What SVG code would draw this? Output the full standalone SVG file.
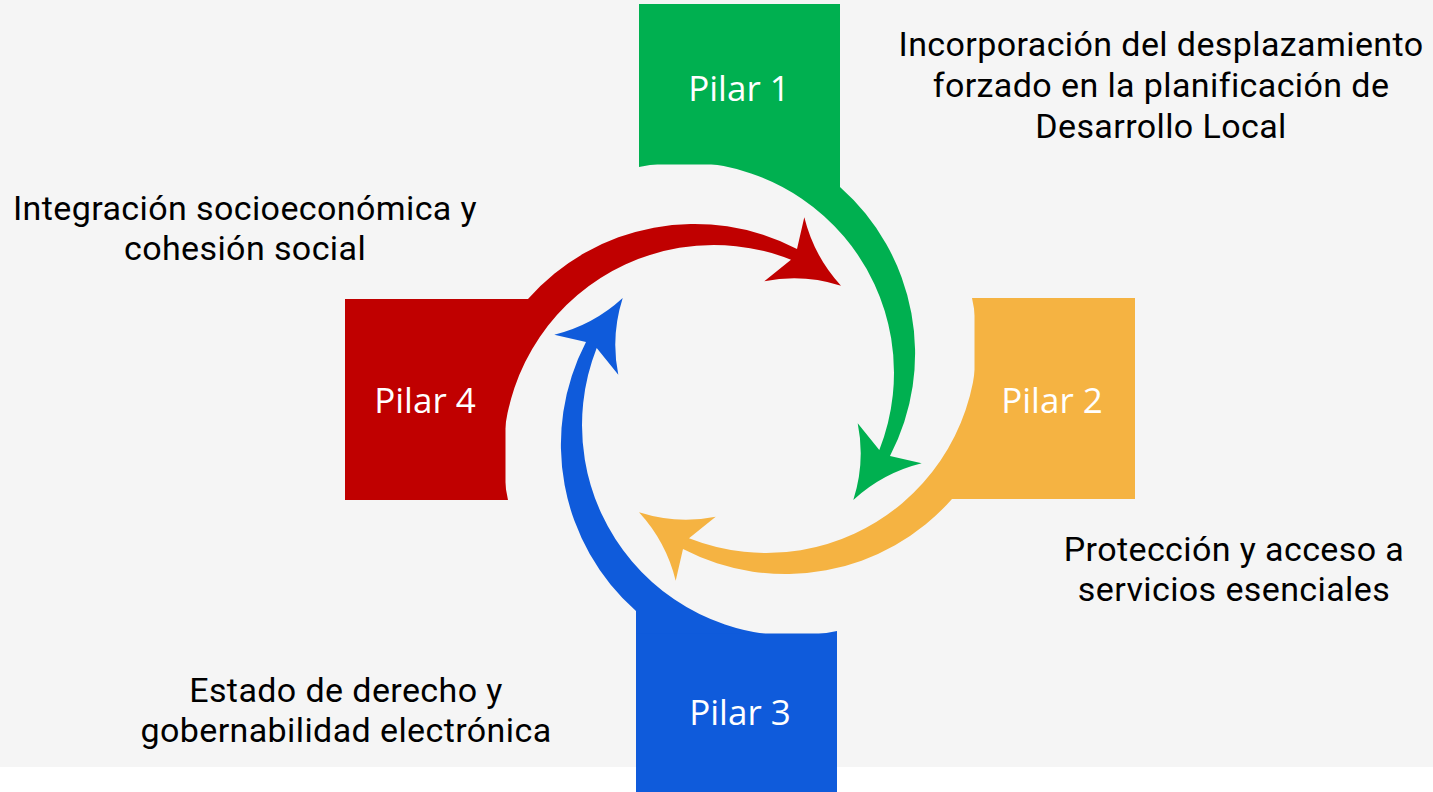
<svg xmlns="http://www.w3.org/2000/svg" width="1433" height="792" viewBox="0 0 1433 792">
<defs>
<style>
.lbl{font-family:Roboto,"Liberation Sans",sans-serif;font-size:34px;letter-spacing:0.4px;fill:#000;text-anchor:middle}
.pl{font-family:"Open Sans","Noto Sans",sans-serif;font-size:35px;fill:#fff;text-anchor:middle}
</style>
<rect id="box" x="639" y="4" width="201" height="160.5"/>
<path id="band" d="M840,187 A222,222 0 0 1 890,456 L921.7,463.3 Q882.8,472.9 853.3,500 Q865.5,461.5 857.7,423.3 L879.3,450 A210.5,210.5 0 0 0 639,167 L639,164 L840,164 Z"/>
</defs>
<rect width="1433" height="792" fill="#ffffff"/>
<rect width="1433" height="767" fill="#f5f5f5"/>
<g id="connectors">
<use href="#band" fill="#00B050"/>
<use href="#band" fill="#F5B342" transform="rotate(90 740 399)"/>
<use href="#band" fill="#0F5BDB" transform="translate(-4 0) rotate(180 740 399)"/>
<use href="#band" fill="#C00000" transform="rotate(270 740 399)"/>
</g>
<g id="pilar1">
<use href="#box" fill="#00B050"/>
<text class="pl" x="739" y="101">Pilar 1</text>
</g>
<g id="pilar2">
<use href="#box" fill="#F5B342" transform="rotate(90 740 399)"/>
<text class="pl" x="1052" y="413">Pilar 2</text>
</g>
<g id="pilar3">
<use href="#box" fill="#0F5BDB" transform="translate(-4 0) rotate(180 740 399)"/>
<text class="pl" x="740" y="725">Pilar 3</text>
</g>
<g id="pilar4">
<use href="#box" fill="#C00000" transform="rotate(270 740 399)"/>
<text class="pl" x="425" y="413">Pilar 4</text>
</g>
<g id="labels">
<text class="lbl" x="1161"><tspan x="1161" y="56">Incorporación del desplazamiento</tspan><tspan x="1161" y="97">forzado en la planificación de</tspan><tspan x="1161" y="138">Desarrollo Local</tspan></text>
<text class="lbl" x="245"><tspan x="245" y="220">Integración socioeconómica y</tspan><tspan x="245" y="260">cohesión social</tspan></text>
<text class="lbl" x="1234"><tspan x="1234" y="561">Protección y acceso a</tspan><tspan x="1234" y="601">servicios esenciales</tspan></text>
<text class="lbl" x="346"><tspan x="346" y="702">Estado de derecho y</tspan><tspan x="346" y="742">gobernabilidad electrónica</tspan></text>
</g>
</svg>
